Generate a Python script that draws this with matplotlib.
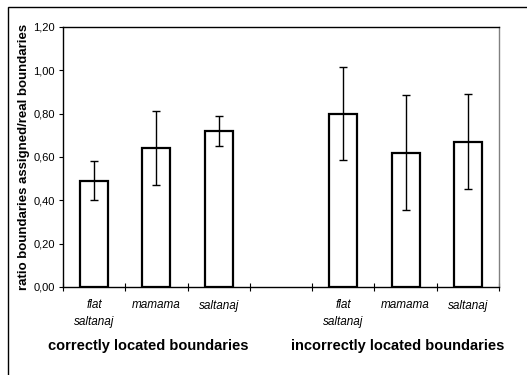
import matplotlib
matplotlib.use("Agg")
import matplotlib.pyplot as plt
import matplotlib.transforms as mtransforms
from matplotlib.patches import Rectangle
from matplotlib.ticker import FixedLocator

plt.rcParams["font.family"] = ["Liberation Sans", "DejaVu Sans"]

# data
groups = ["correctly located boundaries", "incorrectly located boundaries"]
conditions = ["flat\nsaltanaj", "mamama", "saltanaj"]
correct_means = [0.49, 0.64, 0.72]
correct_err = [0.09, 0.17, 0.07]
incorrect_means = [0.80, 0.62, 0.67]
incorrect_err = [0.215, 0.265, 0.22]
yticks = [0.0, 0.2, 0.4, 0.6, 0.8, 1.0, 1.2]

fig = plt.figure(figsize=(5.27, 3.75), dpi=100)
fig.patch.set_facecolor("white")

# outer chart frame (runs off the right and bottom of the picture)
fig.patches.append(Rectangle((8 / 527, -0.1), 1.2, 1 - 7 / 375 + 0.1,
                             transform=fig.transFigure, fill=False,
                             edgecolor="black", linewidth=1.0, clip_on=False))

ax = fig.add_axes([63 / 527, 1 - 287 / 375, (499 - 63) / 527, (287 - 27) / 375])

pos_correct = [0, 1, 2]
pos_incorrect = [4, 5, 6]
for pos, means, errs in [(pos_correct, correct_means, correct_err),
                         (pos_incorrect, incorrect_means, incorrect_err)]:
    ax.bar(pos, means, width=0.45, color="white", edgecolor="black",
           linewidth=1.6, zorder=2)
    ax.errorbar(pos, means, yerr=errs, fmt="none", ecolor="black",
                elinewidth=1.0, capsize=3, capthick=1.0, zorder=3)

ax.set_xlim(-0.5, 6.5)
ax.set_ylim(0, 1.2)
ax.set_yticks(yticks)
ax.set_yticklabels([f"{v:.2f}".replace(".", ",") for v in yticks], fontsize=8)
ax.tick_params(axis="y", direction="out", length=3, width=0.8, pad=3)

ax.set_xticks(pos_correct + [3] + pos_incorrect)
ax.set_xticklabels(conditions + [""] + conditions, fontsize=8.5,
                   style="italic", linespacing=1.45)
ax.tick_params(axis="x", which="major", length=0, pad=9)
ax.xaxis.set_minor_locator(FixedLocator([x - 0.5 for x in range(8)]))
ax.tick_params(axis="x", which="minor", direction="inout", length=6, width=0.8)

ax.set_ylabel("ratio boundaries assigned/real boundaries", fontsize=9.5,
              fontweight="bold", labelpad=2.5)

for sp in ["left", "bottom", "top"]:
    ax.spines[sp].set_color("black")
    ax.spines[sp].set_linewidth(1.0)
ax.spines["right"].set_color("#808080")
ax.spines["right"].set_linewidth(1.0)

row = mtransforms.blended_transform_factory(ax.transData, fig.transFigure)
for i, g in enumerate(groups):
    center = 1 + 4 * i - 0.13
    ax.text(center, 1 - 346 / 375, g, transform=row, fontsize=10.5,
            fontweight="bold", ha="center", va="center")

fig.savefig("out.png", dpi=100)
